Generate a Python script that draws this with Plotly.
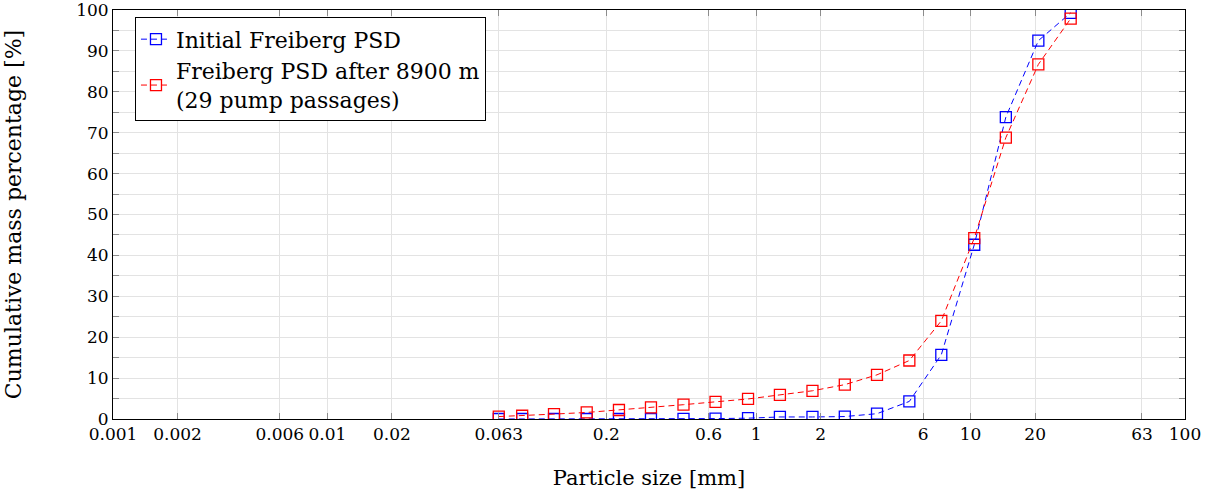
import plotly.graph_objects as go

# Particle size classes [mm] and cumulative mass passing [%]
particle_size_mm = [0.063, 0.081, 0.114, 0.162, 0.229, 0.323, 0.458, 0.646, 0.916,
                    1.29, 1.83, 2.59, 3.66, 5.18, 7.3, 10.4, 14.6, 20.7, 29.3]
initial_psd = [0.0, 0.0, 0.0, 0.0, 0.0, 0.0, 0.05, 0.1, 0.2,
               0.5, 0.5, 0.6, 1.3, 4.3, 15.7, 42.6, 73.8, 92.5, 99.3]
after_pumping_psd = [0.6, 0.8, 1.2, 1.6, 2.2, 2.85, 3.5, 4.2, 4.9,
                     5.9, 6.9, 8.4, 10.8, 14.3, 24.0, 44.2, 68.8, 86.7, 97.9]

x_tick_values = [0.001, 0.002, 0.006, 0.01, 0.02, 0.063, 0.2, 0.6, 1, 2, 6, 10, 20, 63, 100]
x_tick_labels = ["0.001", "0.002", "0.006", "0.01", "0.02", "0.063", "0.2", "0.6",
                 "1", "2", "6", "10", "20", "63", "100"]

FONT = "DejaVu Serif"
GRID = "#e3e3e3"
TICK = "#8c8c8c"

fig = go.Figure()
fig.add_trace(go.Scatter(
    x=particle_size_mm, y=initial_psd, mode="lines+markers",
    name="Initial Freiberg PSD",
    line=dict(color="#0000ff", width=1, dash="6px,4px"),
    marker=dict(symbol="square-open", size=11, color="#0000ff", line=dict(width=1.3)),
))
fig.add_trace(go.Scatter(
    x=particle_size_mm, y=after_pumping_psd, mode="lines+markers",
    name="Freiberg PSD after 8900 m<br>(29 pump passages)",
    line=dict(color="#ff0000", width=1, dash="6px,4px"),
    marker=dict(symbol="square-open", size=11, color="#ff0000", line=dict(width=1.3)),
))

fig.update_layout(
    width=1208, height=498,
    margin=dict(l=113, r=23, t=10, b=79),
    paper_bgcolor="white", plot_bgcolor="white",
    font=dict(family=FONT, size=17, color="black"),
    showlegend=True,
    legend=dict(
        x=0.0205, y=0.982, xanchor="left", yanchor="top",
        bgcolor="white", bordercolor="black", borderwidth=1,
        font=dict(family=FONT, size=22), tracegroupgap=0,
    ),
    xaxis=dict(
        type="log", range=[-3, 2], automargin=False,
        tickmode="array", tickvals=x_tick_values, ticktext=x_tick_labels,
        ticklabeloverflow="allow",
        showgrid=True, gridcolor=GRID, gridwidth=1,
        ticks="inside", ticklen=6, tickcolor=TICK, tickwidth=1,
        showline=True, linecolor="black", linewidth=1, mirror="ticks",
        zeroline=False,
        title=dict(text="Particle size [mm]", font=dict(family=FONT, size=21), standoff=26),
        tickfont=dict(family=FONT, size=17),
    ),
    yaxis=dict(
        range=[0, 100], dtick=10, tick0=0, automargin=False,
        ticklabeloverflow="allow",
        showgrid=True, gridcolor=GRID, gridwidth=1,
        ticks="inside", ticklen=6, tickcolor=TICK, tickwidth=1,
        minor=dict(dtick=5, ticks="inside", ticklen=6, tickcolor=TICK,
                   showgrid=True, gridcolor=GRID),
        showline=True, linecolor="black", linewidth=1, mirror="ticks",
        zeroline=False,
        title=dict(text="Cumulative mass percentage [%]", font=dict(family=FONT, size=22), standoff=48),
        tickfont=dict(family=FONT, size=17),
    ),
)

fig.write_html("out.html")
